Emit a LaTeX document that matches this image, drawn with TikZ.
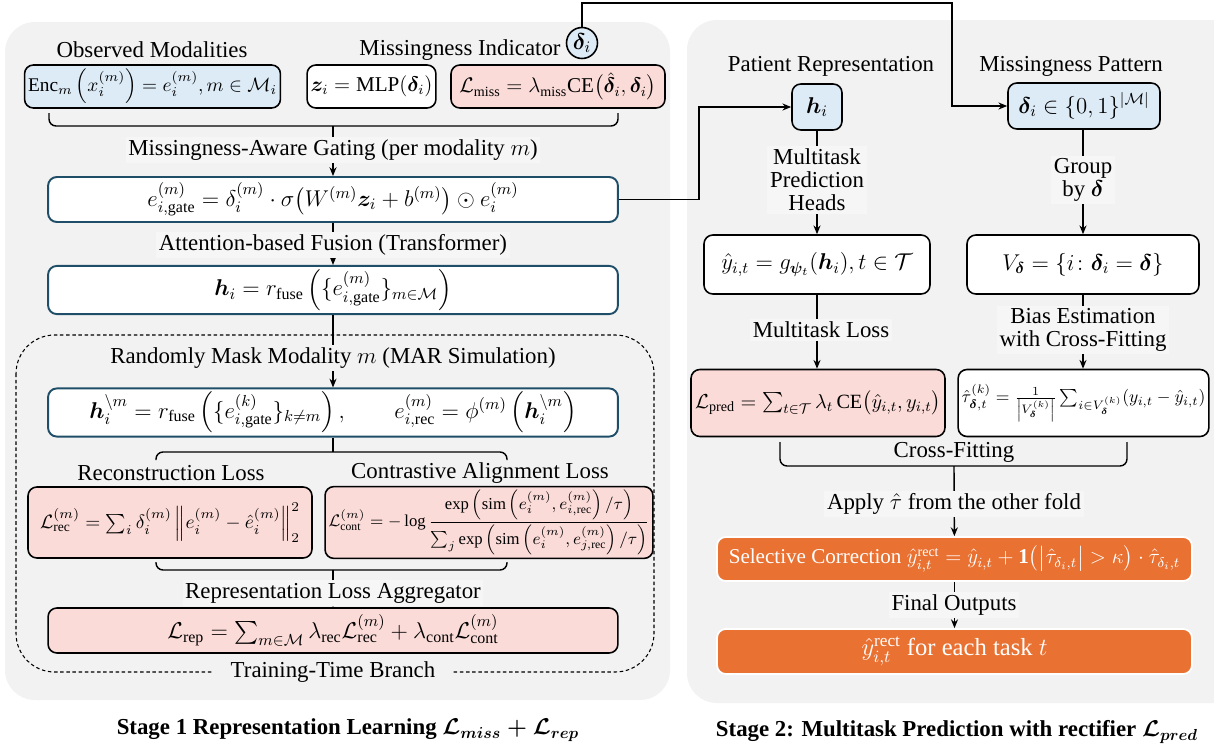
\documentclass[tikz,border=0pt]{standalone}
\usepackage{fix-cm}
\usepackage{amsmath,amssymb,bm}
\usepackage{fontspec}
\setmainfont{Liberation Serif}
\usetikzlibrary{arrows.meta,calc}

\definecolor{panelgray}{HTML}{F2F2F2}
\definecolor{labelgray}{HTML}{F6F6F6}
\definecolor{boxblue}{HTML}{DDEBF7}
\definecolor{boxpink}{HTML}{FADBD8}
\definecolor{edgeteal}{HTML}{1F4E68}
\definecolor{boxorange}{HTML}{E97132}

\tikzset{
  panel/.style={fill=panelgray, rounded corners=17pt},
  box/.style={draw=black, line width=0.9pt, rounded corners=5pt, fill=white, inner sep=2pt, align=center},
  bluebox/.style={box, fill=boxblue},
  pinkbox/.style={box, fill=boxpink},
  gatebox/.style={box, draw=edgeteal, line width=1.1pt},
  orangebox/.style={box, draw=white, line width=1pt, fill=boxorange, text=white},
  lbl/.style={fill=labelgray, inner sep=1.5pt, align=center},
  flow/.style={-{Stealth[length=5pt,width=4pt]}, line width=0.8pt},
  brace/.style={line width=0.8pt, rounded corners=4pt},
  fs/.style={font=\fontsize{#1}{#1}\selectfont},
}

\begin{document}
\begin{tikzpicture}[x=0.02cm, y=-0.02cm, font=\fontsize{13}{15}\selectfont]
	\useasboundingbox (0,0) rectangle (1214,747);

	% panels
	\fill[panel] (5,22) rectangle (670,700);
	\fill[panel] (687,20) rectangle (1260,703);
	\draw[dash pattern=on 2pt off 1.5pt, line width=0.6pt, rounded corners=22pt] (16,335) rectangle (654,672);

	% stage 1
	\node at (152,50) {Observed Modalities};
	\node at (460,50) {Missingness Indicator};
	\node[circle, draw=black, line width=0.9pt, fill=boxblue, minimum size=0.62cm, inner sep=0pt] (delta) at (582,43) {$\bm{\delta}_i$};

	\node[bluebox, minimum width=5.1cm, minimum height=0.86cm, fs=11] (enc) at (152.5,86.5) {$\mathrm{Enc}_m\left(x_i^{(m)}\right)=e_i^{(m)}, m\in\mathcal{M}_i$};
	\node[box, minimum width=2.54cm, minimum height=0.86cm, fs=12] (mlp) at (371.5,86.5) {$\bm{z}_i=\mathrm{MLP}(\bm{\delta}_i)$};
	\node[pinkbox, minimum width=4.28cm, minimum height=0.86cm, fs=12] (lmiss) at (558,86.5) {$\mathcal{L}_{\mathrm{miss}}=\lambda_{\mathrm{miss}}\mathrm{CE}\big(\hat{\bm{\delta}}_i, \bm{\delta}_i\big)$};

	\node[gatebox, minimum width=11.4cm, minimum height=0.9cm] (gate) at (333,199.5) {$e_{i,\mathrm{gate}}^{(m)}=\delta_i^{(m)}\cdot\sigma\big(W^{(m)}\bm{z}_i+b^{(m)}\big)\odot e_i^{(m)}$};
	\node[gatebox, minimum width=11.4cm, minimum height=0.88cm] (fuse) at (333,290) {$\bm{h}_i=r_{\mathrm{fuse}}\left(\{e_{i,\mathrm{gate}}^{(m)}\}_{m\in\mathcal{M}}\right)$};
	\node[gatebox, minimum width=11.4cm, minimum height=0.9cm] (mask) at (333,412.5) {$\bm{h}_i^{\setminus m}=r_{\mathrm{fuse}}\left(\{e_{i,\mathrm{gate}}^{(k)}\}_{k\neq m}\right),\qquad e_{i,\mathrm{rec}}^{(m)}=\phi^{(m)}\left(\bm{h}_i^{\setminus m}\right)$};

	\node[pinkbox, minimum width=5.68cm, minimum height=1.42cm, fs=11] (lrec) at (170,522.5) {$\mathcal{L}_{\mathrm{rec}}^{(m)}=\sum_i\delta_i^{(m)}\left\|e_i^{(m)}-\hat{e}_i^{(m)}\right\|_2^2$};
	\node[pinkbox, minimum width=6.16cm, minimum height=1.42cm, fs=9.5] (lcont) at (489,522.5) {$\mathcal{L}_{\mathrm{cont}}^{(m)}=-\log\dfrac{\exp\left(\mathrm{sim}\left(e_i^{(m)},e_{i,\mathrm{rec}}^{(m)}\right)/\tau\right)}{\sum_j\exp\left(\mathrm{sim}\left(e_i^{(m)},e_{j,\mathrm{rec}}^{(m)}\right)/\tau\right)}$};
	\node[pinkbox, minimum width=11.4cm, minimum height=0.9cm] (lrep) at (333,630.5) {$\mathcal{L}_{\mathrm{rep}}=\sum_{m\in\mathcal{M}}\lambda_{\mathrm{rec}}\mathcal{L}_{\mathrm{rec}}^{(m)}+\lambda_{\mathrm{cont}}\mathcal{L}_{\mathrm{cont}}^{(m)}$};

	% braces
	\draw[brace] (49,113) |- (333,126) -| (618,113);
	\coordinate (tipA) at (333,126);
	\draw[brace] (156,460) |- (333,452) -| (507,460);
	\coordinate (tipB) at (333,452);
	\draw[brace] (156,562) |- (333,570) -| (507,562);
	\coordinate (tipC) at (333,570);

	\draw[flow] (tipA) -- (gate);
	\draw[flow] (gate) -- (fuse);
	\draw[flow] (fuse) -- (mask);
	\draw[line width=0.8pt] (mask) -- (tipB);
	\draw[flow] (tipC) -- (lrep);

	\node[lbl] at (333,150) {Missingness-Aware Gating (per modality $m$)};
	\node[lbl] at (333,245) {Attention-based Fusion (Transformer)};
	\node[fill=panelgray, inner sep=1.5pt] at (333,358) {Randomly Mask Modality $m$ (MAR Simulation)};
	\node at (171,473) {Reconstruction Loss};
	\node at (480,473) {Contrastive Alignment Loss};
	\node[lbl] at (333,593) {Representation Loss Aggregator};
	\node[fill=panelgray, inner xsep=10pt, inner ysep=1pt] at (333,672) {Training-Time Branch};

	\node[font=\fontsize{13}{15}\bfseries\boldmath] at (348,730) {Stage 1 Representation Learning $\mathcal{L}_{miss}+\mathcal{L}_{rep}$};

	% stage 2
	\node at (831,66) {Patient Representation};
	\node at (1071,66) {Missingness Pattern};
	\node[bluebox, minimum width=1.0cm, minimum height=0.92cm] (hrep) at (817,107) {$\bm{h}_i$};
	\node[bluebox, minimum width=3.04cm, minimum height=0.92cm] (pattern) at (1084,106) {$\bm{\delta}_i\in\{0,1\}^{|\mathcal{M}|}$};

	\node[box, minimum width=4.52cm, minimum height=1.18cm] (heads) at (817,264.5) {$\hat{y}_{i,t}=g_{\bm{\psi}_t}(\bm{h}_i),t\in\mathcal{T}$};
	\node[box, minimum width=4.64cm, minimum height=1.18cm] (groups) at (1083,264.5) {$V_{\bm{\delta}}=\{i\colon\bm{\delta}_i=\bm{\delta}\}$};
	\node[pinkbox, minimum width=5.08cm, minimum height=1.34cm, fs=11.5] (lpred) at (818,403) {$\mathcal{L}_{\mathrm{pred}}=\sum_{t\in\mathcal{T}}\lambda_t\,\mathrm{CE}\big(\hat{y}_{i,t},y_{i,t}\big)$};
	\node[box, minimum width=4.86cm, minimum height=1.34cm, fs=10] (bias) at (1083.5,403) {$\hat{\tau}_{\bm{\delta},t}^{(k)}=\frac{1}{\left|V_{\bm{\delta}}^{(k)}\right|}\sum_{i\in V_{\bm{\delta}}^{(k)}}(y_{i,t}-\hat{y}_{i,t})$};

	\node[orangebox, minimum width=9.5cm, minimum height=0.88cm, fs=12] (select) at (954.5,559) {Selective Correction $\hat{y}_{i,t}^{\mathrm{rect}}=\hat{y}_{i,t}+\mathbf{1}\big(\big|\hat{\tau}_{\delta_i,t}\big|>\kappa\big)\cdot\hat{\tau}_{\delta_i,t}$};
	\node[orangebox, minimum width=9.5cm, minimum height=0.9cm, fs=14] (final) at (954.5,651.5) {$\hat{y}_{i,t}^{\mathrm{rect}}$ for each task $t$};

	\draw[brace] (780,442) |- (954,466) -| (1127,442);
	\coordinate (tipD) at (954,466);

	% connectors
	\coordinate (topbend) at (952,3);
	\draw[flow] (delta.north) |- (topbend) |- (pattern.west);
	\coordinate (sidebend) at (699,0);
	\draw[flow] (gate.east) -| (sidebend |- hrep.west) -- (hrep.west);
	\draw[flow] (hrep) -- (heads);
	\draw[flow] (pattern.south -| groups.north) -- (groups);
	\draw[flow] (heads) -- (lpred.north -| heads.south);
	\draw[flow] (groups) -- (bias.north -| groups.south);
	\draw[flow] (tipD) -- (select);
	\draw[flow] (select) -- (final);

	\node[lbl] at (817,180) {Multitask\\[-2pt]Prediction\\[-2pt]Heads};
	\node[lbl] at (1083,180) {Group\\[-2pt]by $\bm{\delta}$};
	\node[lbl] at (821,330) {Multitask Loss};
	\node[lbl] at (1083,330) {Bias Estimation\\[-2pt]with Cross-Fitting};
	\node at (954,452) {Cross-Fitting};
	\node[lbl] at (954,504) {Apply $\hat{\tau}$ from the other fold};
	\node[lbl] at (954,605) {Final Outputs};

	\node[font=\fontsize{13}{15}\bfseries\boldmath] at (957,732) {Stage 2: Multitask Prediction with rectifier $\mathcal{L}_{pred}$};
\end{tikzpicture}
\end{document}
